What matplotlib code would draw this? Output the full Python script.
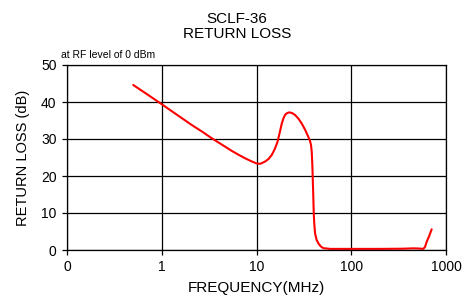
import matplotlib
matplotlib.use("Agg")
import matplotlib.pyplot as plt

plt.rcParams['font.family'] = ['Liberation Sans', 'DejaVu Sans']

# return loss curve
freq_mhz = [0.5, 0.7, 1.0, 1.4, 2.07, 2.7, 3.37, 4.3, 5.47, 6.5, 7.57, 8.8, 10.0, 11.0,
            12.3, 13.4, 14.5, 15.6, 16.7, 17.6, 18.5, 19.2, 20.0, 21.0, 22.2, 23.8,
            25.5, 27.7, 30.0, 32.6, 35.2, 36.6, 37.6, 38.3, 38.9, 39.6, 40.2, 40.8,
            41.5, 43.0, 45.0, 47.5, 50.7, 60.0, 100.0, 200.0, 350.0, 452.0, 520.0,
            575.0, 600.0, 625.0, 665.0, 706.0]
return_loss_db = [44.6, 42.1, 39.4, 36.8, 33.8, 31.9, 30.2, 28.5, 26.8, 25.7, 24.8, 24.0, 23.4, 23.3,
                  23.9, 24.6, 25.7, 27.3, 29.3, 31.8, 34.2, 35.5, 36.5, 37.0, 37.2, 37.0,
                  36.5, 35.5, 34.2, 32.5, 30.6, 29.6, 28.4, 26.5, 22.5, 16.0, 9.9, 6.8,
                  4.5, 2.8, 1.8, 1.0, 0.5, 0.3, 0.3, 0.3, 0.35, 0.45, 0.4,
                  0.3, 0.8, 2.2, 3.8, 5.6]

x_ticks = [0.1, 1, 10, 100, 1000]
x_tick_labels = ["0", "1", "10", "100", "1000"]
y_ticks = [0, 10, 20, 30, 40, 50]

fig = plt.figure(figsize=(4.62, 3.03), dpi=100)
ax = fig.add_axes([67 / 462, 1 - 250 / 303, (446 - 67) / 462, (250 - 65) / 303])

ax.plot(freq_mhz, return_loss_db, color='#ff0000', lw=1.5,
        solid_joinstyle='round', solid_capstyle='round')

ax.set_xscale('log')
ax.set_xlim(0.1, 1000)
ax.set_ylim(0, 50)
ax.set_xticks(x_ticks)
ax.set_xticklabels(x_tick_labels)
ax.set_yticks(y_ticks)
ax.minorticks_off()
ax.grid(True, color='black', lw=0.9)
ax.set_axisbelow(True)
for s in ax.spines.values():
    s.set_color('black')
    s.set_linewidth(0.9)
ax.tick_params(direction='out', length=3.5, width=0.9, labelsize=10, pad=4)

ax.set_xlabel("FREQUENCY(MHz)", fontsize=11, labelpad=5)
ax.set_ylabel("RETURN LOSS (dB)", fontsize=10.5, labelpad=8)

fig.text(237 / 462, 1 - 26.5 / 303, "SCLF-36\nRETURN LOSS", ha='center', va='center',
         fontsize=11, linespacing=1.1)
fig.text(61 / 462, 1 - 55 / 303, "at RF level of 0 dBm", ha='left', va='center', fontsize=7.5)

fig.savefig("out.png", dpi=100)
